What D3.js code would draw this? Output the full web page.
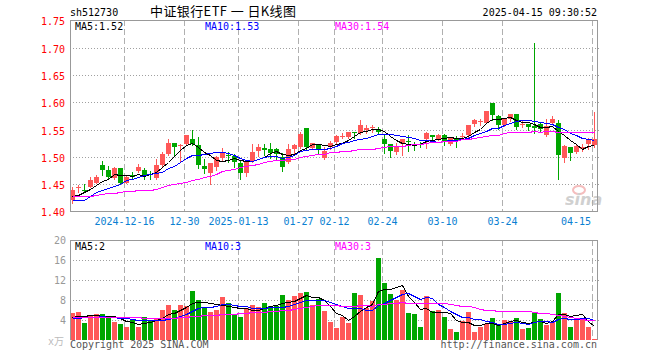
<!DOCTYPE html>
<html lang="zh-CN">
<head>
<meta charset="UTF-8">
<title>中证银行ETF 日K线图</title>
<script src="https://d3js.org/d3.v7.min.js"></script>
<style>
  body { margin: 0; background: #fff; }
  svg { display: block; }
  text { font-family: "DejaVu Sans Mono", "Liberation Mono", monospace; font-size: 10px; }
  .title { font-family: "Noto Sans CJK SC", sans-serif; font-size: 13px; white-space: pre; }
  .grid { stroke: #a0a0a0; stroke-dasharray: 1,2; shape-rendering: crispEdges; }
  .vgrid { stroke: #b0b0b0; stroke-dasharray: 6,3; shape-rendering: crispEdges; }
  .border { stroke: #999; fill: none; shape-rendering: crispEdges; }
  .ma { fill: none; stroke-width: 1; shape-rendering: crispEdges; }
</style>
</head>
<body>
<svg id="chart" width="660" height="360"></svg>
<script>
// trading days 2024-12-03 .. 2025-04-15
const dates = [
  "12-03","12-04","12-05","12-06","12-09","12-10","12-11","12-12","12-13","12-16","12-17","12-18","12-19","12-20",
  "12-23","12-24","12-25","12-26","12-27","12-30","12-31",
  "01-02","01-03","01-06","01-07","01-08","01-09","01-10","01-13","01-14","01-15","01-16","01-17","01-20","01-21",
  "01-22","01-23","01-24","01-27",
  "02-05","02-06","02-07","02-10","02-11","02-12","02-13","02-14","02-17","02-18","02-19","02-20","02-21","02-24",
  "02-25","02-26","02-27","02-28",
  "03-03","03-04","03-05","03-06","03-07","03-10","03-11","03-12","03-13","03-14","03-17","03-18","03-19","03-20",
  "03-21","03-24","03-25","03-26","03-27","03-28","03-31",
  "04-01","04-02","04-03","04-07","04-08","04-09","04-10","04-11","04-14","04-15"
];

const open = [
  1.421,1.443,1.440,1.445,1.453,1.485,1.476,1.461,1.480,1.453,1.466,1.475,1.476,1.469,1.461,1.486,1.506,1.526,1.520,1.523,
  1.532,1.521,1.483,1.470,1.481,1.498,1.504,1.501,1.489,1.470,1.492,1.511,1.517,1.515,1.515,1.500,1.490,1.515,1.519,1.553,
  1.517,1.523,1.498,1.519,1.527,1.537,1.537,1.545,1.544,1.549,1.553,1.552,1.532,1.523,1.509,1.523,1.530,1.522,1.524,1.532,
  1.540,1.532,1.540,1.523,1.534,1.537,1.540,1.560,1.564,1.563,1.599,1.575,1.558,1.570,1.579,1.560,1.560,1.557,1.560,1.540,
  1.563,1.562,1.498,1.519,1.509,1.515,1.523,1.521
];
const close = [
  1.439,1.444,1.437,1.458,1.464,1.476,1.463,1.480,1.453,1.464,1.464,1.481,1.467,1.467,1.486,1.506,1.526,1.519,1.522,1.540,
  1.523,1.486,1.478,1.488,1.500,1.508,1.501,1.490,1.471,1.492,1.509,1.519,1.512,1.508,1.506,1.481,1.515,1.521,1.542,1.519,
  1.525,1.515,1.511,1.526,1.539,1.538,1.545,1.544,1.558,1.553,1.555,1.546,1.524,1.511,1.519,1.532,1.528,1.521,1.522,1.544,
  1.537,1.540,1.529,1.534,1.529,1.538,1.558,1.567,1.565,1.585,1.576,1.558,1.570,1.579,1.555,1.561,1.554,1.553,1.551,1.557,
  1.570,1.504,1.520,1.508,1.520,1.519,1.531,1.532
];
const high = [
  1.444,1.448,1.450,1.463,1.467,1.492,1.484,1.481,1.480,1.467,1.472,1.487,1.480,1.475,1.497,1.509,1.532,1.526,1.523,1.540,
  1.550,1.537,1.497,1.489,1.501,1.517,1.509,1.506,1.492,1.495,1.523,1.523,1.523,1.525,1.517,1.508,1.523,1.523,1.546,1.553,
  1.526,1.523,1.519,1.529,1.540,1.544,1.546,1.546,1.567,1.558,1.558,1.554,1.540,1.523,1.526,1.532,1.540,1.528,1.527,1.545,
  1.541,1.542,1.542,1.534,1.539,1.544,1.558,1.570,1.570,1.585,1.599,1.577,1.571,1.579,1.579,1.567,1.560,1.708,1.563,1.570,
  1.575,1.567,1.521,1.519,1.521,1.523,1.534,1.583
];
const low = [
  1.416,1.435,1.436,1.444,1.452,1.467,1.459,1.459,1.450,1.452,1.460,1.473,1.459,1.459,1.460,1.484,1.504,1.501,1.492,1.521,
  1.521,1.480,1.470,1.450,1.476,1.495,1.490,1.481,1.459,1.465,1.490,1.501,1.504,1.498,1.495,1.475,1.488,1.508,1.517,1.515,
  1.514,1.508,1.496,1.515,1.525,1.534,1.534,1.534,1.542,1.544,1.546,1.544,1.508,1.500,1.506,1.503,1.511,1.512,1.519,1.517,
  1.529,1.531,1.521,1.521,1.519,1.532,1.537,1.557,1.559,1.562,1.568,1.552,1.556,1.565,1.551,1.555,1.550,1.544,1.546,1.539,
  1.560,1.459,1.490,1.494,1.508,1.511,1.515,1.519
];
// volume, 万
const volume = [
  5.47,5.6,3.47,5.0,5.2,5.2,4.67,3.67,3.2,2.67,4.0,2.67,4.6,4.0,4.33,6.0,7.0,6.0,7.0,6.8,
  9.8,8.0,6.33,5.6,6.0,8.67,7.33,5.0,4.6,6.33,7.0,6.67,7.4,6.8,6.8,9.0,8.0,8.8,9.33,9.67,
  7.0,8.2,5.8,3.67,2.47,4.67,3.47,9.4,9.0,6.33,7.8,16.47,11.4,9.2,8.07,10.0,5.4,5.2,2.67,8.8,
  5.8,6.0,4.6,2.2,1.6,3.8,5.6,1.6,2.6,3.27,4.4,3.13,4.0,3.8,4.4,2.2,2.4,5.47,4.2,3.0,
  3.6,9.4,5.4,2.6,4.2,4.2,2.6,0.2
];

// MA values for the first days (their windows start before 12-03)
const ma5Head = [1.428, 1.430, 1.436, 1.442];
const ma10Head = [1.4205, 1.4205, 1.4217, 1.4292, 1.4354, 1.4391, 1.4422, 1.446, 1.4503];
const ma30Head = [1.428, 1.428, 1.428, 1.4286, 1.4304, 1.4323, 1.4335, 1.4348, 1.436, 1.4373, 1.4379, 1.4385,
  1.4391, 1.4398, 1.441, 1.4447, 1.4478, 1.4503, 1.4528, 1.4547, 1.4571, 1.4602, 1.4627, 1.4658, 1.4689,
  1.4745, 1.4764, 1.4783, 1.4814];
const vma5Head = [4.67, 4.8, 4.9, 5.0];
const vma10Head = [4.33, 4.4, 4.53, 4.6, 4.67, 4.73, 4.67, 4.6, 4.47];
const vma30Head = [4.67, 4.67, 4.67, 4.67, 4.67, 4.67, 4.67, 4.67, 4.67, 4.67, 4.67, 4.6, 4.5, 4.45, 4.4,
  4.4, 4.45, 4.5, 4.6, 4.7, 4.85, 4.9, 4.95, 5.0, 5.1, 5.13, 5.2, 5.25, 5.33];

const priceTicks = [1.40, 1.45, 1.50, 1.55, 1.60, 1.65, 1.70, 1.75];
const volTicks = [4, 8, 12, 16, 20];
const dateTicks = ["12-16", "12-30", "01-13", "01-27", "02-12", "02-24", "03-10", "03-24", "04-15"];
const dateTickLabels = ["2024-12-16", "12-30", "2025-01-13", "01-27", "02-12", "02-24", "03-10", "03-24", "04-15"];
const priceLegend = ["MA5:1.52", "MA10:1.53", "MA30:1.54"];
const volLegend = ["MA5:2", "MA10:3", "MA30:3"];

const UP = "#ff5858", DOWN = "#00a600";
const maColors = ["#000", "#0000ff", "#ff00ff"];

function movingAvg(values, n, head) {
  return values.map((v, i) => i < head.length ? head[i] : d3.mean(values.slice(i - n + 1, i + 1)));
}

const data = dates.map((d, i) => ({
  date: d, o: open[i], c: close[i], h: high[i], l: low[i], v: volume[i], up: close[i] >= open[i]
}));

const svg = d3.select("#chart");

const x = d3.scaleBand().domain(dates).range([69, 597]);
const yP = d3.scaleLinear().domain([1.40, 1.75]).range([211, 20]);
const yV = d3.scaleLinear().domain([0, 20]).range([340, 240]);
const py = v => Math.ceil(yP(v));
const vy = v => Math.round(yV(v));

// header
svg.append("text").attr("x", 70).attr("y", 16).text("sh512730");
svg.append("text").attr("class", "title").attr("x", 150).attr("y", 16)
  .attr("textLength", 146).attr("lengthAdjust", "spacing")
  .text("中证银行ETF 一 日K线图");
svg.append("text").attr("x", 597).attr("y", 16).attr("text-anchor", "end").text("2025-04-15 09:30:52");

// ---- price panel ----
svg.selectAll(".pgrid")
  .data(priceTicks.slice(1, -1))
  .enter().append("line")
  .attr("class", "grid")
  .attr("x1", 70).attr("x2", 599)
  .attr("y1", d => py(d) + 0.5).attr("y2", d => py(d) + 0.5);

svg.selectAll(".plabel")
  .data(priceTicks)
  .enter().append("text")
  .attr("x", 65).attr("y", d => py(d) + 5)
  .attr("text-anchor", "end")
  .attr("fill", "#f00")
  .text(d => d.toFixed(2));

[[20, 211], [240, 340]].forEach(([y0, y1]) => {
  svg.selectAll(null)
    .data(dateTicks)
    .enter().append("line")
    .attr("class", "vgrid")
    .attr("x1", d => x(d) + 1.5).attr("x2", d => x(d) + 1.5)
    .attr("y1", y0).attr("y2", y1);
});

svg.selectAll(".dlabel")
  .data(dateTicks)
  .enter().append("text")
  .attr("x", (d, i) => Math.min(x(d) + 1.5, 591 - dateTickLabels[i].length * 3))
  .attr("y", 225)
  .attr("text-anchor", "middle")
  .attr("fill", "#0a80d2")
  .text((d, i) => dateTickLabels[i]);

// sina watermark
const wm = svg.append("g").attr("opacity", 0.55);
wm.append("ellipse").attr("cx", 579).attr("cy", 190).attr("rx", 6).attr("ry", 4)
  .attr("fill", "none").attr("stroke", "#e88").attr("stroke-width", 2);
wm.append("text").attr("x", 565).attr("y", 205)
  .style("font-family", "DejaVu Sans").style("font-size", "16px")
  .style("font-weight", "bold").style("font-style", "italic")
  .attr("fill", "#aaa").text("sina");

// candles
const candles = svg.append("g");
candles.selectAll("line")
  .data(data)
  .enter().append("line")
  .attr("x1", d => x(d.date) + 3.5).attr("x2", d => x(d.date) + 3.5)
  .attr("y1", d => py(d.h)).attr("y2", d => py(d.l) + 1)
  .attr("stroke", d => d.up ? UP : DOWN)
  .attr("shape-rendering", "crispEdges");
candles.selectAll("rect")
  .data(data)
  .enter().append("rect")
  .attr("x", d => x(d.date) + 1)
  .attr("width", 5)
  .attr("y", d => py(Math.max(d.o, d.c)))
  .attr("height", d => Math.max(1, py(Math.min(d.o, d.c)) - py(Math.max(d.o, d.c))))
  .attr("fill", d => d.up ? UP : DOWN);

const line = d3.line().x((d, i) => x(dates[i]) + 3.5);

[[ma5Head, 5], [ma10Head, 10], [ma30Head, 30]].forEach(([head, n], k) => {
  const ma = movingAvg(close, n, head);
  svg.append("path")
    .attr("class", "ma")
    .attr("stroke", maColors[k])
    .attr("d", line.y(d => py(d) + 0.5)(ma));
});

svg.selectAll(".plegend")
  .data(priceLegend)
  .enter().append("text")
  .attr("x", (d, i) => [75, 205, 335][i]).attr("y", 30)
  .attr("fill", (d, i) => maColors[i])
  .text(d => d);

svg.append("path").attr("class", "border")
  .attr("d", "M70.5,211.5V20.5H597.5V211.5H70.5");

// ---- volume panel ----
svg.selectAll(".vg")
  .data(volTicks.slice(0, -1))
  .enter().append("line")
  .attr("class", "grid")
  .attr("x1", 70).attr("x2", 599)
  .attr("y1", d => vy(d) + 0.5).attr("y2", d => vy(d) + 0.5);

svg.selectAll(".vlabel")
  .data(volTicks)
  .enter().append("text")
  .attr("x", 66).attr("y", d => vy(d) + 4)
  .attr("text-anchor", "end")
  .attr("fill", "#999")
  .text(d => d);
svg.append("text").attr("x", 64).attr("y", 345).attr("text-anchor", "end")
  .attr("fill", "#bbb").text("x万");

svg.append("g").selectAll("rect")
  .data(data)
  .enter().append("rect")
  .attr("x", d => x(d.date) + 1)
  .attr("width", 5)
  .attr("y", d => vy(d.v))
  .attr("height", d => 340 - vy(d.v))
  .attr("fill", d => d.up ? UP : DOWN);

[[vma5Head, 5], [vma10Head, 10], [vma30Head, 30]].forEach(([head, n], k) => {
  const ma = movingAvg(volume, n, head);
  svg.append("path")
    .attr("class", "ma")
    .attr("stroke", maColors[k])
    .attr("d", line.y(d => vy(d) + 0.5)(ma));
});

svg.selectAll(".vlegend")
  .data(volLegend)
  .enter().append("text")
  .attr("x", (d, i) => [75, 205, 335][i]).attr("y", 250)
  .attr("fill", (d, i) => maColors[i])
  .text(d => d);

svg.append("path").attr("class", "border")
  .attr("d", "M70.5,340V240.5H597.5V340");

// footer
svg.append("text").attr("x", 70).attr("y", 348).attr("fill", "#555").text("Copyright 2025 SINA.COM");
svg.append("text").attr("x", 597).attr("y", 348).attr("text-anchor", "end").attr("fill", "#555")
  .text("http://finance.sina.com.cn");
</script>
</body>
</html>
